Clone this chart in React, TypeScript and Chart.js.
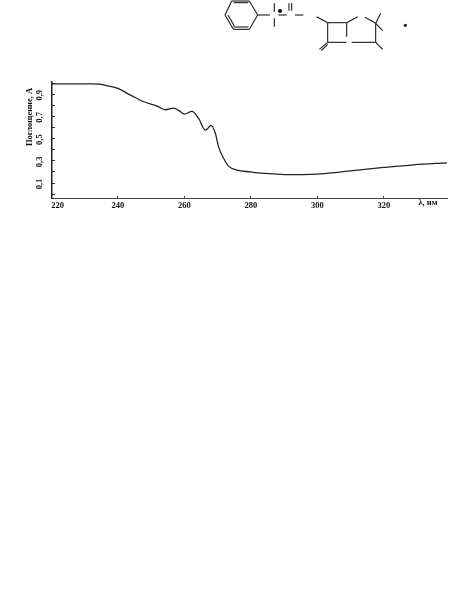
import React, { useEffect, useRef } from "react";
import { Chart, registerables } from "chart.js";

Chart.register(...registerables);

const wavelengths = [220, 226, 232, 234.5, 237, 240, 243.8, 247.8, 251.8, 254.3, 256.8, 258.5, 260, 262.3, 264.3, 266.3, 267, 268, 269.3, 270.3, 271.8, 273.3, 275.8, 279.8, 282, 287, 292, 296, 300, 305, 310, 320, 329, 339];
const absorbance = [0.994, 0.994, 0.994, 0.99, 0.975, 0.952, 0.892, 0.832, 0.793, 0.76, 0.775, 0.75, 0.72, 0.745, 0.682, 0.577, 0.59, 0.62, 0.55, 0.426, 0.323, 0.252, 0.216, 0.2, 0.192, 0.182, 0.176, 0.176, 0.18, 0.193, 0.21, 0.24, 0.264, 0.282];
const xTickValues = [220, 240, 260, 280, 300, 320, 339];
const xTickLabels = ["220", "240", "260", "280", "300", "320", ""];
const yTickLabels = ["0,1", "0,3", "0,5", "0,7", "0,9"];
const yAxisTitle = "Поглощение, А";
const xAxisUnit = "λ, нм";

// Structural formula decoration above the plot, in reference zoom units.
const moleculeStrokes = [
  [50, 3, 30, 45], [30, 45, 55, 88], [55, 88, 103, 88], [103, 88, 128, 45], [128, 45, 103, 3], [103, 3, 50, 3],
  [55, 81, 100, 81], [56, 8, 100, 8], [39, 45, 58, 78],
  [128, 45, 165, 45], [178, 10, 178, 35], [178, 55, 178, 80], [190, 45, 215, 45],
  [222, 10, 222, 32], [230, 10, 230, 32], [240, 45, 265, 45],
  [305, 50, 338, 68], [338, 68, 395, 68], [338, 68, 338, 127], [338, 127, 395, 127], [395, 68, 395, 110],
  [410, 127, 482, 127], [482, 127, 482, 70], [450, 52, 482, 70], [395, 68, 428, 50],
  [482, 70, 497, 40], [482, 70, 503, 92], [482, 127, 503, 148], [338, 127, 313, 148], [338, 133, 319, 152],
];
const moleculeDots = [[195, 33, 5], [571, 76, 3.5]];

const FONT = "'Liberation Serif', serif";

const overlay = {
  id: "overlay",
  afterDraw(chart: any) {
    const c = chart.ctx;
    const area = chart.chartArea;
    c.save();
    c.strokeStyle = "#1c1c1c";
    c.fillStyle = "#111";
    c.lineWidth = 1.1;
    const sx = (v: number) => 215 + v / 3;
    const sy = (v: number) => v / 3;
    for (const [a, b, d, e] of moleculeStrokes) {
      c.beginPath();
      c.moveTo(sx(a), sy(b));
      c.lineTo(sx(d), sy(e));
      c.stroke();
    }
    for (const [a, b, r] of moleculeDots) {
      c.beginPath();
      c.arc(sx(a), sy(b), r / 3 + 0.4, 0, Math.PI * 2);
      c.fill();
    }
    c.font = `bold 8.5px ${FONT}`;
    c.textAlign = "center";
    c.textBaseline = "middle";
    c.fillStyle = "#111";
    c.fillText(xAxisUnit, area.right - 19, area.bottom + 5);
    c.translate(30, 117);
    c.rotate(-Math.PI / 2);
    c.fillText(yAxisTitle, 0, 0);
    c.restore();
  },
};

export default function App() {
  const ref = useRef<HTMLCanvasElement>(null);
  useEffect(() => {
    const chart = new Chart(ref.current!, {
      type: "line",
      data: {
        datasets: [
          {
            data: wavelengths.map((x, i) => ({ x, y: absorbance[i] })),
            borderColor: "#222",
            borderWidth: 1.3,
            pointRadius: 0,
            tension: 0.35,
            cubicInterpolationMode: "monotone",
          },
        ],
      },
      options: {
        responsive: false,
        animation: false,
        layout: { padding: { left: 0, top: 82, right: 19, bottom: 373 } },
        plugins: { legend: { display: false }, tooltip: { enabled: false } },
        scales: {
          x: {
            type: "linear",
            min: 220.2,
            max: 339,
            afterBuildTicks: (s: any) => {
              s.ticks = xTickValues.map((value) => ({ value }));
            },
            ticks: {
              color: "#111",
              font: { family: FONT, size: 8.5, weight: "bold" },
              padding: 5,
              maxRotation: 0,
              autoSkip: false,
              align: "inner",
              callback: (v: any) => xTickLabels[xTickValues.indexOf(v)],
            },
            border: { color: "#444", width: 1 },
            grid: {
              drawOnChartArea: false,
              drawTicks: true,
              tickLength: -2,
              tickColor: (ctx: any) => (ctx.tick && xTickLabels[xTickValues.indexOf(ctx.tick.value)] ? "#444" : "rgba(0,0,0,0)"),
            },
            afterFit: (s: any) => { s.height = 20; },
          },
          y: {
            min: -0.035,
            max: 1.01,
            afterBuildTicks: (s: any) => {
              const vals = [0, 0.1, 0.2, 0.3, 0.4, 0.5, 0.6, 0.7, 0.8, 0.9, 1];
              s.ticks = vals.map((value) => ({ value }));
            },
            ticks: {
              color: "#111",
              font: { family: FONT, size: 8.5, weight: "bold" },
              padding: 10,
              labelOffset: 1,
              crossAlign: "center",
              minRotation: 90,
              maxRotation: 90,
              autoSkip: false,
              callback: (v: any) => {
                const i = [0.1, 0.3, 0.5, 0.7, 0.9].findIndex((t) => Math.abs(t - v) < 1e-6);
                return i >= 0 ? yTickLabels[i] : "";
              },
            },
            border: { color: "#222", width: 1.5 },
            grid: { drawOnChartArea: false, drawTicks: true, tickLength: -3, color: "#333" },
            afterFit: (s: any) => { s.width = 52; },
          },
        },
      },
      plugins: [overlay],
    } as any);
    return () => chart.destroy();
  }, []);
  return (
    <canvas
      ref={ref}
      width={466}
      height={591}
      style={{ position: "absolute", left: 0, top: 0, width: 466, height: 591, display: "block", background: "#fff" }}
    />
  );
}
